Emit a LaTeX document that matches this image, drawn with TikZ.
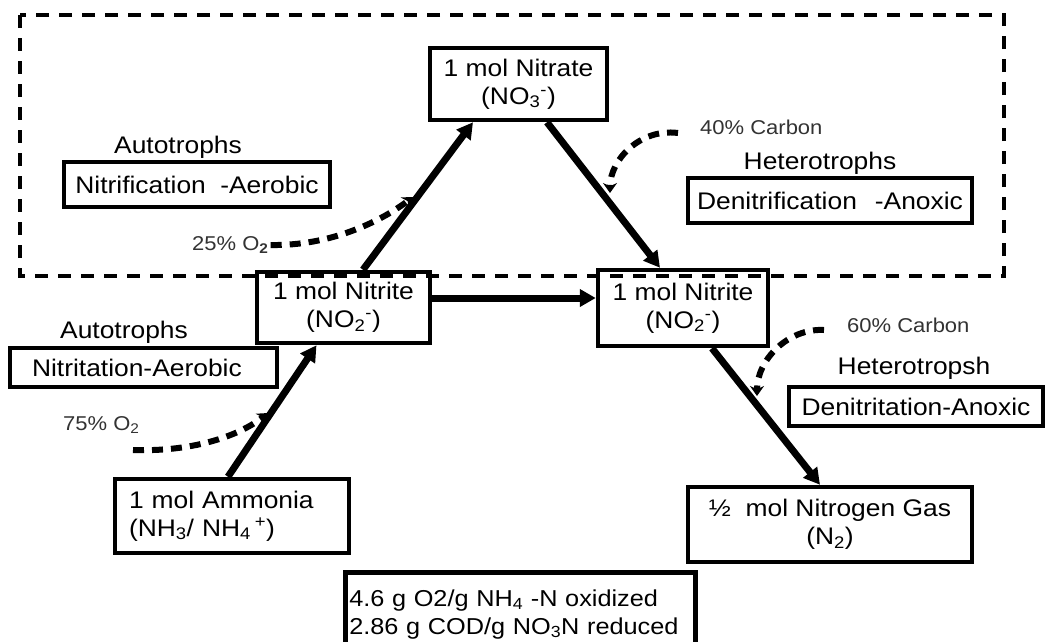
\documentclass[tikz,border=0pt]{standalone}
\usepackage{fontspec}
\setmainfont{Liberation Sans}[FakeStretch=1.1]
\usetikzlibrary{arrows.meta}

\tikzset{
  box/.style={draw, line width=4.5pt, inner sep=0pt, align=center,
    font=\fontsize{24}{28}\selectfont},
  tag/.style={inner sep=0pt, font=\fontsize{24}{28}\selectfont},
  note/.style={inner sep=0pt, text=black!80, font=\fontsize{20}{24}\selectfont},
  flow/.style={line width=7pt, -{Triangle[length=16pt,width=17pt]}},
  feed/.style={line width=6pt, dash pattern=on 11pt off 8pt,
    -{Stealth[length=10pt,width=14pt]}},
  zone/.style={line width=4.5pt, dash pattern=on 13pt off 10pt}
}

\begin{document}
\begin{tikzpicture}[x=1pt, y=-1pt]
  \useasboundingbox (0,0) rectangle (1045,641);
  \clip (0,0) rectangle (1045,641);
  \fill[white] (0,0) rectangle (1045,641);

  % aerobic / anoxic zone around the nitrate loop
  \draw[zone] (20,15) rectangle (1004,276);

  % nitrogen species
  \node[box, minimum width=177pt, minimum height=72pt] (nitrate) at (518.5,84)
    {1 mol Nitrate\\(NO\textsubscript{3}\textsuperscript{-})};
  \node[box, minimum width=173pt, minimum height=71pt] (nitA) at (343.5,307.5)
    {1 mol Nitrite\\(NO\textsubscript{2}\textsuperscript{-})};
  \node[box, minimum width=170pt, minimum height=76pt] (nitB) at (683,308)
    {1 mol Nitrite\\(NO\textsubscript{2}\textsuperscript{-})};
  \node[box, minimum width=234pt, minimum height=74pt, align=left,
        text width=206pt, inner xsep=14pt] (amm) at (232,516)
    {1 mol Ammonia\\(NH\textsubscript{3}/ NH\textsubscript{4}\,\textsuperscript{+})};
  \node[box, minimum width=284pt, minimum height=75pt] (gas) at (830,524.5)
    {\textonehalf\ \ mol Nitrogen Gas\\(N\textsubscript{2})};
  \node[box, anchor=north west, minimum width=350pt, minimum height=84pt,
        align=left, text width=342pt, inner xsep=4pt,
        font=\fontsize{23}{28}\selectfont] (yield) at (343,570)
    {4.6 g O2/g NH\textsubscript{4} -N oxidized\\2.86 g COD/g NO\textsubscript{3}N reduced};

  % process boxes
  \node[box, minimum width=266pt, minimum height=45pt] (nitrif) at (197,184.5)
    {Nitrification\hspace{0.6em}-Aerobic};
  \node[box, minimum width=284pt, minimum height=45pt] (denitrif) at (830,200.5)
    {Denitrification\hspace{0.75em}-Anoxic};
  \node[box, minimum width=267pt, minimum height=39pt, align=left,
        text width=223pt, inner xsep=22pt] (nitrit) at (143.5,367.5)
    {Nitritation-Aerobic};
  \node[box, minimum width=254pt, minimum height=39pt] (denitrit) at (916,406.5)
    {Denitritation-Anoxic};

  % organism labels
  \node[tag] (autoA) at (178,147) {Autotrophs};
  \node[tag] (autoB) at (124,332) {Autotrophs};
  \node[tag] (hetA) at (820,163) {Heterotrophs};
  \node[tag] (hetB) at (914,368) {Heterotropsh};

  % supply labels
  \node[note, anchor=west] (oxA) at (192,245) {25\% O\textsubscript{\textbf{2}}};
  \node[note, anchor=west] (oxB) at (63,425) {75\% O\textsubscript{2}};
  \node[note, anchor=west] (carbA) at (700,127) {40\% Carbon};
  \node[note, anchor=west] (carbB) at (847,325) {60\% Carbon};

  % conversion arrows
  \draw[flow] ([xshift=-4pt]amm.north) -- ([xshift=-27pt]nitA.south);
  \draw[flow] ([xshift=19.5pt]nitA.north) -- ([xshift=-45.5pt]nitrate.south);
  \draw[flow] ([xshift=28.5pt]nitrate.south) -- ([xshift=-23pt]nitB.north);
  \draw[flow] ([yshift=9.5pt]nitA.east) -- ([yshift=10pt]nitB.west);
  \draw[flow] ([xshift=29pt]nitB.south) -- ([xshift=-10pt]gas.north);

  % oxygen and carbon supply
  \coordinate (oxBstart) at (133,450);
  \coordinate (oxAend) at (413,197);
  \coordinate (oxBend) at (268,413);
  \coordinate (carbAend) at (610,193);
  \coordinate (carbBend) at (757,396);
  \draw[feed] ([xshift=2pt]oxA.east) .. controls (330,246) and (380,222) .. (oxAend);
  \draw[feed] (oxBstart) .. controls (190,452) and (238,437) .. (oxBend);
  \draw[feed] ([xshift=-22pt,yshift=-6pt]carbA.west) .. controls (640,128) and (610,160) .. (carbAend);
  \draw[feed] ([xshift=-23pt,yshift=-5pt]carbB.west) .. controls (788,328) and (757,360) .. (carbBend);
\end{tikzpicture}
\end{document}
